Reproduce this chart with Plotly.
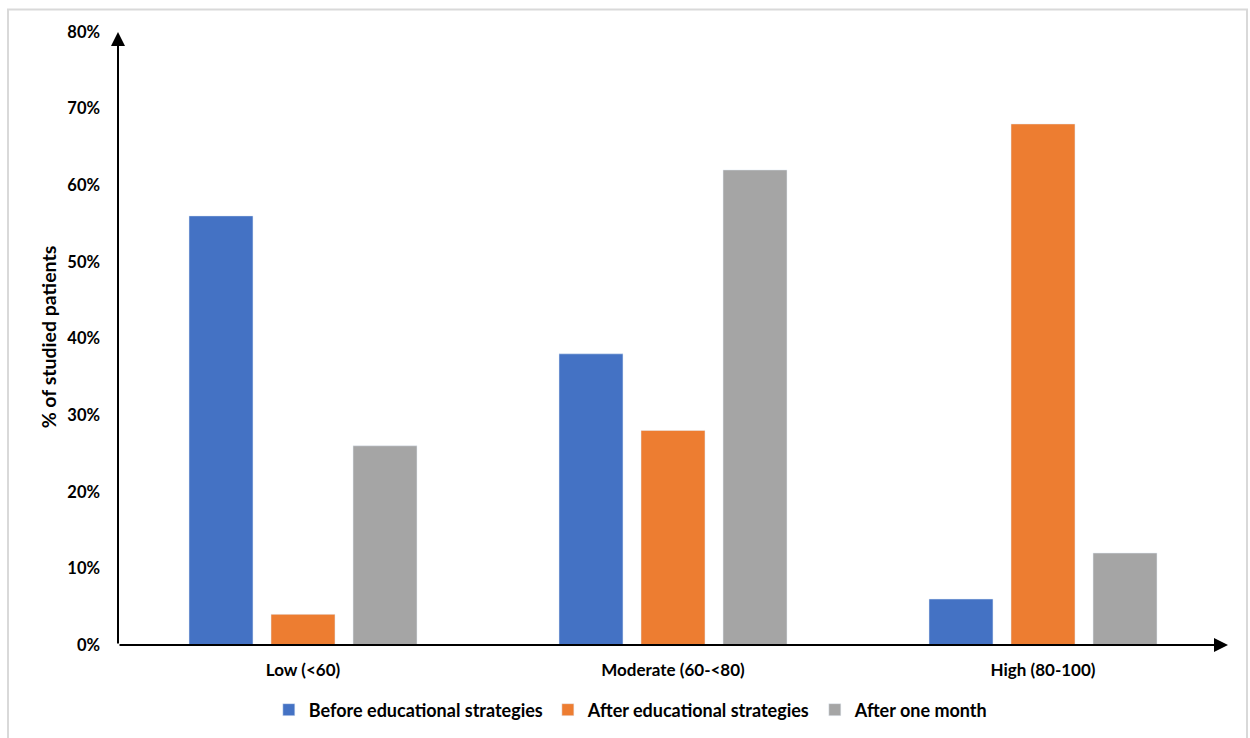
import plotly.graph_objects as go

categories = ["Low (<60)", "Moderate (60-<80)", "High (80-100)"]
before_edu = [56, 38, 6]
after_edu = [4, 28, 68]
after_month = [26, 62, 12]
y_ticks = [0, 10, 20, 30, 40, 50, 60, 70, 80]
y_tick_labels = [f"{v}%" for v in y_ticks]

FONT = "Lato"
fig = go.Figure()
fig.add_bar(name="Before educational strategies", x=categories, y=before_edu, marker_color="#4472C4")
fig.add_bar(name="After educational strategies", x=categories, y=after_edu, marker_color="#ED7D31")
fig.add_bar(name="After one month", x=categories, y=after_month, marker_color="#A5A5A5")

fig.update_layout(
    width=1250, height=738,
    margin=dict(l=118, r=22, t=31.5, b=93, autoexpand=False),
    paper_bgcolor="white", plot_bgcolor="white",
    barmode="group", bargap=0.335, bargroupgap=0.22,
    font=dict(family=FONT, size=15, color="#000", weight="bold"),
    showlegend=True,
    legend=dict(orientation="h", x=0.462, xanchor="center", y=-0.106, yanchor="middle",
                font=dict(family=FONT, size=18, color="#000", weight="bold"),
                itemwidth=30, traceorder="normal"),
)
fig.update_xaxes(range=[-0.5, 2.5], showline=False, showgrid=False, zeroline=False,
                 ticks="", ticklabelstandoff=13,
                 tickfont=dict(family=FONT, size=17, color="#000", weight="bold"))
fig.update_yaxes(range=[0, 80], tickvals=y_ticks, ticktext=y_tick_labels,
                 showline=False, showgrid=False, zeroline=False, ticks="",
                 ticklabelstandoff=17,
                 tickfont=dict(family=FONT, size=16.5, color="#000", weight="bold"))

# axis arrows
fig.add_annotation(xref="x domain", yref="y domain", axref="x domain", ayref="y domain",
                   x=0, y=1, ax=0, ay=0, showarrow=True, arrowhead=2, arrowsize=1.4,
                   arrowwidth=2, arrowcolor="black", text="", standoff=0)
fig.add_annotation(xref="x domain", yref="y domain", axref="x domain", ayref="y domain",
                   x=1, y=0, ax=0, ay=0, showarrow=True, arrowhead=2, arrowsize=1.4,
                   arrowwidth=2, arrowcolor="black", text="", standoff=0)

# y axis title
fig.add_annotation(xref="paper", yref="paper", x=-0.063, y=0.502, text="% of studied patients",
                   showarrow=False, textangle=-90, xanchor="center", yanchor="middle",
                   font=dict(family=FONT, size=19.5, color="#000", weight="bold"))

# outer border
fig.add_shape(type="rect", xref="paper", yref="paper",
              x0=(8 - 118) / 1110, x1=(1247 - 118) / 1110,
              y0=(645 - 745) / 613.5, y1=(645 - 9) / 613.5,
              line=dict(color="#d9d9d9", width=2), fillcolor="rgba(0,0,0,0)", layer="below")

fig.write_html("out.html")
